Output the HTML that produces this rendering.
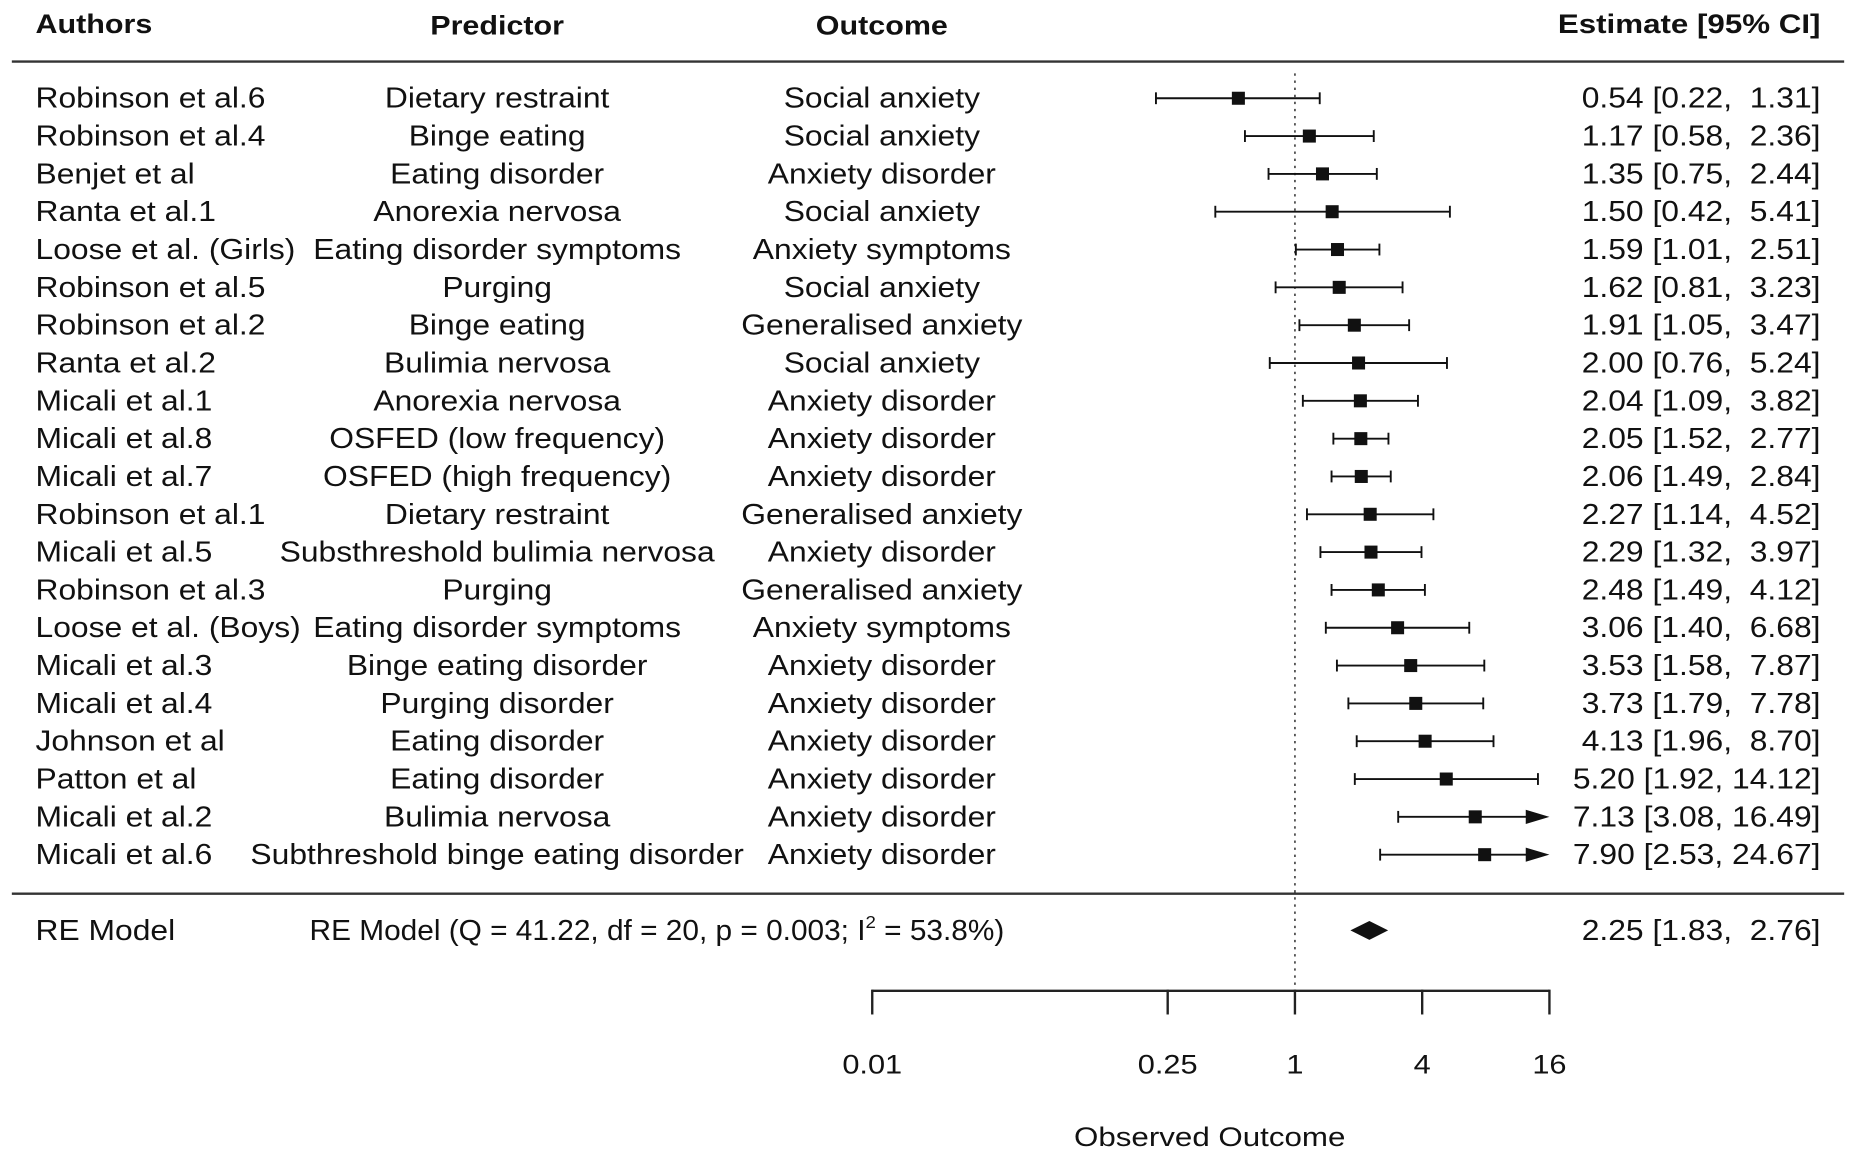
<!DOCTYPE html>
<html><head><meta charset="utf-8"><style>
html,body{margin:0;padding:0;background:#fff}
svg{display:block}
text{font-family:"Liberation Sans",Arial,sans-serif;fill:#111}
</style></head><body>
<svg id="plot" width="1856" height="1166" viewBox="0 0 1568 985" preserveAspectRatio="none" xmlns="http://www.w3.org/2000/svg">
<g font-weight="bold" font-size="23">
<text transform="translate(30,28) scale(1.12,1)" x="0" y="0">Authors</text>
<text transform="translate(420,29) scale(1.12,1)" x="0" y="0" text-anchor="middle">Predictor</text>
<text transform="translate(745,29) scale(1.12,1)" x="0" y="0" text-anchor="middle">Outcome</text>
<text transform="translate(1538,28) scale(1.15,1)" x="0" y="0" text-anchor="end">Estimate [95% CI]</text>
</g>
<line x1="10" x2="1558" y1="52" y2="52" stroke="#333" stroke-width="2"/>
<line x1="10" x2="1558" y1="755" y2="755" stroke="#333" stroke-width="2"/>
<line x1="1094" x2="1094" y1="62" y2="836" stroke="#333" stroke-width="1.3" stroke-dasharray="2,4"/>
<g id="rows"></g>
<g id="axis"></g>
<text transform="translate(1022,968) scale(1.15,1)" x="0" y="0" font-size="23" text-anchor="middle">Observed Outcome</text>
</svg>
<script>
const authors=["Robinson et al.6","Robinson et al.4","Benjet et al","Ranta et al.1","Loose et al. (Girls)","Robinson et al.5","Robinson et al.2","Ranta et al.2","Micali et al.1","Micali et al.8","Micali et al.7","Robinson et al.1","Micali et al.5","Robinson et al.3","Loose et al. (Boys)","Micali et al.3","Micali et al.4","Johnson et al","Patton et al","Micali et al.2","Micali et al.6"];
const predictors=["Dietary restraint","Binge eating","Eating disorder","Anorexia nervosa","Eating disorder symptoms","Purging","Binge eating","Bulimia nervosa","Anorexia nervosa","OSFED (low frequency)","OSFED (high frequency)","Dietary restraint","Substhreshold bulimia nervosa","Purging","Eating disorder symptoms","Binge eating disorder","Purging disorder","Eating disorder","Eating disorder","Bulimia nervosa","Subthreshold binge eating disorder"];
const outcomes=["Social anxiety","Social anxiety","Anxiety disorder","Social anxiety","Anxiety symptoms","Social anxiety","Generalised anxiety","Social anxiety","Anxiety disorder","Anxiety disorder","Anxiety disorder","Generalised anxiety","Anxiety disorder","Generalised anxiety","Anxiety symptoms","Anxiety disorder","Anxiety disorder","Anxiety disorder","Anxiety disorder","Anxiety disorder","Anxiety disorder"];
const est=[0.54,1.17,1.35,1.50,1.59,1.62,1.91,2.00,2.04,2.05,2.06,2.27,2.29,2.48,3.06,3.53,3.73,4.13,5.20,7.13,7.90];
const lower=[0.22,0.58,0.75,0.42,1.01,0.81,1.05,0.76,1.09,1.52,1.49,1.14,1.32,1.49,1.40,1.58,1.79,1.96,1.92,3.08,2.53];
const upper=[1.31,2.36,2.44,5.41,2.51,3.23,3.47,5.24,3.82,2.77,2.84,4.52,3.97,4.12,6.68,7.87,7.78,8.70,14.12,16.49,24.67];
const reEst=[2.25], reLower=[1.83], reUpper=[2.76];
const ticks=[0.01,0.25,1,4,16];
const tickLabels=["0.01","0.25","1","4","16"];
const NS="http://www.w3.org/2000/svg";
const xMin=0.01,xMax=16;
const SX=1.12;
function X(v){return 1094+Math.log2(v)*53.75;}
function Y(i){return 83+i*31.95;}
function mk(t,a,p){const e=document.createElementNS(NS,t);for(const k in a)e.setAttribute(k,a[k]);p.appendChild(e);return e;}
function txt(p,x,y,anchor,size,sx){return mk('text',{x:0,y:0,transform:`translate(${x},${y}) scale(${sx},1)`,'font-size':size,'text-anchor':anchor},p);}
const rows=document.getElementById('rows');
function fmt(v){return v.toFixed(2);}
for(let i=0;i<est.length;i++){
  const y=Y(i);
  const g=mk('g',{},rows);
  
  
  let t=txt(g,30,y+8,'start',24,SX);t.textContent=authors[i];
  
  
  t=txt(g,420,y+8,'middle',24,SX);t.textContent=predictors[i];
  
  
  t=txt(g,745,y+8,'middle',24,SX);t.textContent=outcomes[i];
  
  
  let u=fmt(upper[i]);if(u.length<5)u=' '+u;
  t=txt(g,1538,y+8,'end',24,SX);
  t.style.whiteSpace='pre';
  t.textContent=fmt(est[i])+' ['+fmt(lower[i])+', '+u+']';
  
  
  const x1=X(Math.max(lower[i],xMin)),clip=upper[i]>xMax,x2=X(Math.min(upper[i],xMax));
  let l=mk('line',{x1:x1,x2:clip?x2-14:x2,y1:y,y2:y,stroke:'#111','stroke-width':1.6},g);
  
  
  l=mk('line',{x1:x1,x2:x1,y1:y-5,y2:y+5,stroke:'#111','stroke-width':1.6},g);
  
  
  if(clip){
    l=mk('polygon',{points:`${x2},${y} ${x2-20},${y-6} ${x2-20},${y+6}`,fill:'#111'},g);
    
    
  }else{
    l=mk('line',{x1:x2,x2:x2,y1:y-5,y2:y+5,stroke:'#111','stroke-width':1.6},g);
    
    
  }
  const s=11;
  l=mk('rect',{x:X(est[i])-s/2,y:y-s/2,width:s,height:s,fill:'#111'},g);
  
  
}
const ry=786;
let t=txt(rows,30,ry+8,'start',24,SX);t.textContent='RE Model';


t=txt(rows,555,ry+8,'middle',24,1.05);
t.innerHTML='RE Model (Q = 41.22, df = 20, p = 0.003; I<tspan font-size="15" dy="-10">2</tspan><tspan dy="10"> = 53.8%)</tspan>';


t=txt(rows,1538,ry+8,'end',24,SX);
t.style.whiteSpace='pre';
t.textContent=fmt(reEst[0])+' ['+fmt(reLower[0])+',  '+fmt(reUpper[0])+']';


let d=mk('polygon',{points:`${X(reLower[0])},${ry} ${X(reEst[0])},${ry-8} ${X(reUpper[0])},${ry} ${X(reEst[0])},${ry+8}`,fill:'#111'},rows);


const ax=document.getElementById('axis');


let a=mk('line',{x1:X(ticks[0]),x2:X(ticks[ticks.length-1]),y1:837,y2:837,stroke:'#222','stroke-width':2},ax);


ticks.forEach((v,i)=>{
  const tl=mk('line',{x1:X(v),x2:X(v),y1:836,y2:857,stroke:'#222','stroke-width':2},ax);
  
  
  const tx=txt(ax,X(v),907,'middle',23,1.13);
  tx.textContent=tickLabels[i];
  
  
});
</script>
</body></html>
